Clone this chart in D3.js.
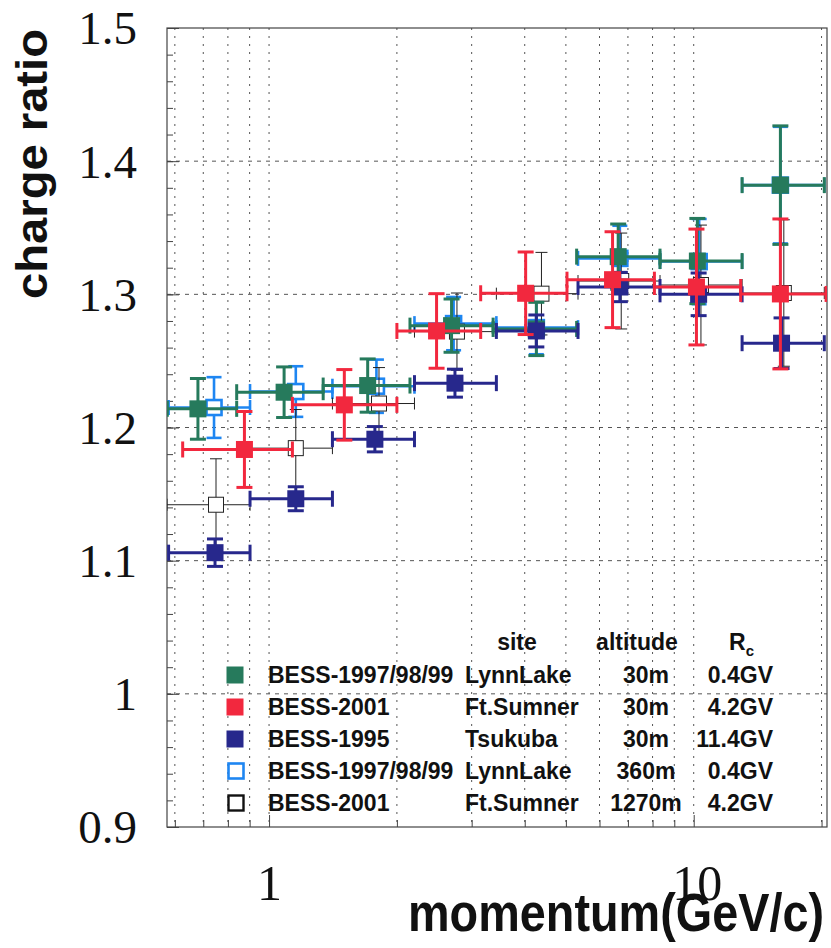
<!DOCTYPE html>
<html>
<head>
<meta charset="utf-8">
<script src="https://cdn.jsdelivr.net/npm/d3@7"></script>
<style>
  body { margin: 0; background: #fff; }
  svg text { font-family: "Liberation Sans", Arial, sans-serif; }
  svg text.num { font-family: "Liberation Serif", "Times New Roman", serif; }
</style>
</head>
<body>
<svg id="chart" width="831" height="948"></svg>
<script>
// Muon charge ratio (mu+/mu-) versus momentum, BESS ground-level campaigns.

// BESS-1997/98/99, Lynn Lake, 30 m
const lynn30P  = [0.68, 1.085, 1.707, 2.69, 4.26, 6.64, 10.2, 16.0];
const lynn30R  = [1.214, 1.2265, 1.2315, 1.2765, 1.274, 1.3283, 1.325, 1.382];
const lynn30E  = [0.0228, 0.019, 0.020, 0.020, 0.020, 0.0245, 0.032, 0.0445];
const lynn30Lo = [0.576, 0.839, 1.341, 2.147, 3.37, 5.30, 8.33, 13.0];
const lynn30Hi = [0.839, 1.341, 2.147, 3.37, 5.30, 8.33, 13.0, 20.3];

// BESS-2001, Ft. Sumner, 30 m
const sumner30P  = [0.875, 1.504, 2.48, 4.02, 6.44, 10.15, 16.0];
const sumner30R  = [1.1835, 1.217, 1.2725, 1.3008, 1.311, 1.3055, 1.3003];
const sumner30E  = [0.0285, 0.0265, 0.028, 0.031, 0.036, 0.0435, 0.0563];
const sumner30Lo = [0.626, 1.135, 2.00, 3.15, 5.03, 8.08, 12.9];
const sumner30Hi = [1.135, 2.00, 3.15, 5.03, 8.08, 12.9, 20.5];

// BESS-1995, Tsukuba, 30 m
const tsukubaP  = [0.746, 1.156, 1.775, 2.74, 4.26, 6.70, 10.27, 16.1];
const tsukubaR  = [1.106, 1.1465, 1.1912, 1.2333, 1.2725, 1.3055, 1.300, 1.2633];
const tsukubaE  = [0.0103, 0.009, 0.0095, 0.0105, 0.012, 0.011, 0.016, 0.019];
const tsukubaLo = [0.58, 0.902, 1.41, 2.20, 3.43, 5.34, 8.33, 13.0];
const tsukubaHi = [0.902, 1.41, 2.20, 3.43, 5.34, 8.33, 13.0, 20.3];

// BESS-1997/98/99, Lynn Lake, 360 m
const lynn360P  = [0.742, 1.156, 1.79, 2.72, 4.26, 6.70, 10.3, 16.0];
const lynn360R  = [1.215, 1.227, 1.231, 1.278, 1.275, 1.327, 1.3246, 1.382];
const lynn360E  = [0.0228, 0.019, 0.020, 0.020, 0.020, 0.0245, 0.032, 0.0438];
const lynn360Lo = [0.58, 0.902, 1.41, 2.20, 3.43, 5.34, 8.33, 13.0];
const lynn360Hi = [0.902, 1.41, 2.20, 3.43, 5.34, 8.33, 13.0, 20.3];

// BESS-2001, Ft. Sumner, 1270 m
const sumner1270P  = [0.75, 1.156, 1.815, 2.77, 4.38, 6.75, 10.4, 16.3];
const sumner1270R  = [1.142, 1.1845, 1.218, 1.272, 1.3005, 1.310, 1.307, 1.301];
const sumner1270E  = [0.0345, 0.029, 0.027, 0.029, 0.031, 0.036, 0.045, 0.055];
const sumner1270Lo = [0.575, 0.902, 1.41, 2.20, 3.43, 5.34, 8.33, 13.0];
const sumner1270Hi = [0.902, 1.41, 2.20, 3.43, 5.34, 8.33, 13.0, 20.3];

// Axis ticks and labels
const yMajorTicks = [0.9, 1.0, 1.1, 1.2, 1.3, 1.4, 1.5];
const yTickLabels = ["0.9", "1", "1.1", "1.2", "1.3", "1.4", "1.5"];
const xGridValues = [0.6, 0.7, 0.8, 0.9, 1, 2, 3, 4, 5, 6, 7, 8, 9, 10, 20];
const xLabelled   = [1, 10];

// Legend table
const legendNames     = ["BESS-1997/98/99", "BESS-2001", "BESS-1995", "BESS-1997/98/99", "BESS-2001"];
const legendSites     = ["LynnLake", "Ft.Sumner", "Tsukuba", "LynnLake", "Ft.Sumner"];
const legendAltitudes = ["30m", "30m", "30m", "360m", "1270m"];
const legendCutoffs   = ["0.4GV", "4.2GV", "11.4GV", "0.4GV", "4.2GV"];

function rows(p, r, e, lo, hi) {
  return p.map((v, i) => ({ p: v, r: r[i], e: e[i], lo: lo[i], hi: hi[i] }));
}

// drawing order: open markers first, then filled
const series = [
  { key: "lynn360",    data: rows(lynn360P, lynn360R, lynn360E, lynn360Lo, lynn360Hi),
    color: "#1e86f2", fill: "#fff", bar: 2.6, marker: 15, mStroke: 2.6, cap: 15 },
  { key: "sumner1270", data: rows(sumner1270P, sumner1270R, sumner1270E, sumner1270Lo, sumner1270Hi),
    color: "#222", fill: "#fff", bar: 1, marker: 15, mStroke: 1, cap: 12 },
  { key: "lynn30",     data: rows(lynn30P, lynn30R, lynn30E, lynn30Lo, lynn30Hi),
    color: "#267a5c", fill: "#267a5c", bar: 3, marker: 17, mStroke: 0, cap: 16 },
  { key: "tsukuba",    data: rows(tsukubaP, tsukubaR, tsukubaE, tsukubaLo, tsukubaHi),
    color: "#27288c", fill: "#27288c", bar: 3, marker: 17, mStroke: 0, cap: 16 },
  { key: "sumner30",   data: rows(sumner30P, sumner30R, sumner30E, sumner30Lo, sumner30Hi),
    color: "#f2283e", fill: "#f2283e", bar: 3, marker: 17, mStroke: 0, cap: 16 }
];
const legendStyle = [series[2], series[4], series[3], series[0], series[1]];

const W = 831, H = 948;
const L = 167, R = 827, T = 28, B = 827;

const x = d3.scaleLog().domain([0.575, 20.6]).range([L, R]);
const y = d3.scaleLinear().domain([0.9, 1.5]).range([B, T]);

const svg = d3.select("#chart");
svg.append("rect").attr("width", W).attr("height", H).attr("fill", "#fff");

svg.append("defs").append("clipPath").attr("id", "plotClip")
  .append("rect").attr("x", L).attr("y", T).attr("width", R - L).attr("height", B - T);

// grid
const grid = svg.append("g").attr("stroke", "#555").attr("stroke-width", 1);
grid.selectAll("line.gx").data(xGridValues).join("line").attr("class", "gx")
  .attr("x1", d => x(d)).attr("x2", d => x(d)).attr("y1", T).attr("y2", B)
  .attr("stroke-dasharray", "2,6");
grid.selectAll("line.gy").data(yMajorTicks.filter(v => v > 0.95 && v < 1.45)).join("line").attr("class", "gy")
  .attr("x1", L).attr("x2", R).attr("y1", d => y(d)).attr("y2", d => y(d))
  .attr("stroke-dasharray", "4,5");

// frame
svg.append("rect").attr("x", L).attr("y", T).attr("width", R - L).attr("height", B - T)
  .attr("fill", "none").attr("stroke", "#444").attr("stroke-width", 1.2);

// y axis: minor ticks every 0.02, major every 0.1 with labels
const yMinor = d3.range(0, 31).map(i => +(0.9 + i * 0.02).toFixed(2));
svg.append("g").attr("transform", `translate(${L},0)`)
  .call(d3.axisLeft(y).tickValues(yMinor).tickSize(-6).tickFormat(""))
  .call(g => g.select(".domain").remove())
  .call(g => g.selectAll("line").attr("stroke", "#444"));
const yAx = svg.append("g").attr("transform", `translate(${L},0)`)
  .call(d3.axisLeft(y).tickValues(yMajorTicks).tickSize(-12).tickPadding(30)
        .tickFormat((d, i) => yTickLabels[i]))
  .call(g => g.select(".domain").remove())
  .call(g => g.selectAll("line").attr("stroke", "#444"));
yAx.selectAll("text").attr("class", "num")
  .attr("font-size", 47).attr("fill", "#111").attr("dy", "0.34em");

// x axis: ticks at every grid value, labels at 1 and 10
const xAx = svg.append("g").attr("transform", `translate(0,${B})`)
  .call(d3.axisBottom(x).tickValues(xGridValues).tickSize(-7)
        .tickFormat(d => xLabelled.includes(d) ? String(d) : ""))
  .call(g => g.select(".domain").remove())
  .call(g => g.selectAll("line").attr("stroke", "#444"));
xAx.selectAll(".tick").filter(d => xLabelled.includes(d)).select("line").attr("y2", -12);
xAx.selectAll("text").attr("class", "num")
  .attr("font-size", 50).attr("fill", "#111")
  .attr("y", 73).attr("dy", 0).attr("dx", d => d === 10 ? 3 : 0);

// axis titles
svg.append("text")
  .attr("transform", "translate(47,164) rotate(-90)")
  .attr("text-anchor", "middle")
  .attr("font-size", 44).attr("font-weight", "bold").attr("fill", "#111")
  .attr("textLength", 270).attr("lengthAdjust", "spacingAndGlyphs")
  .text("charge ratio");
svg.append("text")
  .attr("x", 408).attr("y", 931)
  .attr("font-size", 54).attr("font-weight", "bold").attr("fill", "#111")
  .attr("textLength", 416).attr("lengthAdjust", "spacingAndGlyphs")
  .text("momentum(GeV/c)");

// data
const plot = svg.append("g").attr("clip-path", "url(#plotClip)");
series.forEach(s => {
  const g = plot.append("g").attr("stroke", s.color).attr("stroke-width", s.bar);
  const pts = g.selectAll("g.pt").data(s.data).join("g").attr("class", "pt");
  // horizontal bin width
  pts.append("line")
    .attr("x1", d => x(d.lo)).attr("x2", d => x(d.hi))
    .attr("y1", d => y(d.r)).attr("y2", d => y(d.r));
  pts.append("line")
    .attr("x1", d => x(d.lo)).attr("x2", d => x(d.lo))
    .attr("y1", d => y(d.r) - s.cap / 2).attr("y2", d => y(d.r) + s.cap / 2);
  pts.append("line")
    .attr("x1", d => x(d.hi)).attr("x2", d => x(d.hi))
    .attr("y1", d => y(d.r) - s.cap / 2).attr("y2", d => y(d.r) + s.cap / 2);
  // vertical error
  pts.append("line")
    .attr("x1", d => x(d.p)).attr("x2", d => x(d.p))
    .attr("y1", d => y(d.r + d.e)).attr("y2", d => y(d.r - d.e));
  pts.append("line")
    .attr("x1", d => x(d.p) - s.cap / 2).attr("x2", d => x(d.p) + s.cap / 2)
    .attr("y1", d => y(d.r + d.e)).attr("y2", d => y(d.r + d.e));
  pts.append("line")
    .attr("x1", d => x(d.p) - s.cap / 2).attr("x2", d => x(d.p) + s.cap / 2)
    .attr("y1", d => y(d.r - d.e)).attr("y2", d => y(d.r - d.e));
  // marker
  pts.append("rect")
    .attr("x", d => x(d.p) - s.marker / 2).attr("y", d => y(d.r) - s.marker / 2)
    .attr("width", s.marker).attr("height", s.marker)
    .attr("fill", s.fill).attr("stroke", s.mStroke ? s.color : "none")
    .attr("stroke-width", s.mStroke);
});

// legend table
const legend = svg.append("g").attr("font-weight", "bold").attr("font-size", 23).attr("fill", "#111");
const rowY = i => 675 + i * 32;
legend.append("text").attr("x", 517).attr("y", 650).attr("text-anchor", "middle").text("site");
legend.append("text").attr("x", 637).attr("y", 650).attr("text-anchor", "middle").text("altitude");
const rc = legend.append("text").attr("x", 729).attr("y", 650);
rc.append("tspan").text("R");
rc.append("tspan").attr("font-size", 15).attr("dy", 6).text("c");

const rowsG = legend.selectAll("g.row").data(legendNames).join("g").attr("class", "row");
rowsG.append("rect")
  .attr("x", (d, i) => 235 - legendStyle[i].marker / 2 + (legendStyle[i].mStroke ? 1 : 0))
  .attr("y", (d, i) => rowY(i) - legendStyle[i].marker / 2)
  .attr("width", (d, i) => legendStyle[i].marker)
  .attr("height", (d, i) => legendStyle[i].marker)
  .attr("fill", (d, i) => legendStyle[i].fill)
  .attr("stroke", (d, i) => legendStyle[i].mStroke ? (i === 4 ? "#111" : legendStyle[i].color) : "none")
  .attr("stroke-width", (d, i) => i === 4 ? 2.4 : legendStyle[i].mStroke);
rowsG.append("text").attr("x", 268).attr("y", (d, i) => rowY(i) + 8).text(d => d);
rowsG.append("text").attr("x", 465).attr("y", (d, i) => rowY(i) + 8).text((d, i) => legendSites[i]);
rowsG.append("text").attr("x", 646).attr("y", (d, i) => rowY(i) + 8).attr("text-anchor", "middle")
  .text((d, i) => legendAltitudes[i]);
rowsG.append("text").attr("x", 773).attr("y", (d, i) => rowY(i) + 8).attr("text-anchor", "end")
  .text((d, i) => legendCutoffs[i]);
</script>
</body>
</html>
